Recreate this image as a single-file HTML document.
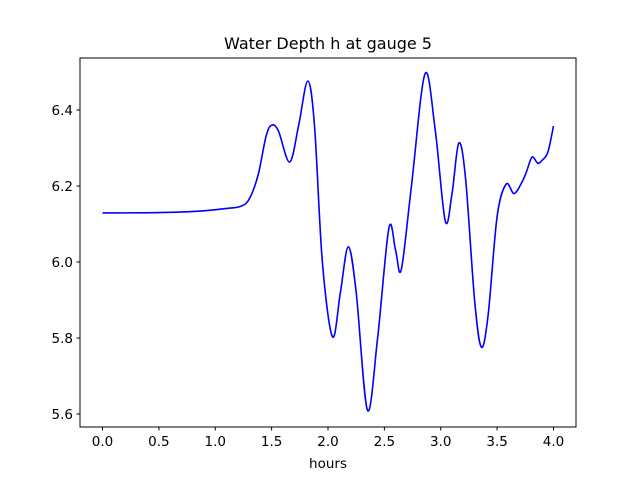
<!DOCTYPE html>
<html><head><meta charset="utf-8"><style>
body{margin:0;background:#fff;}
svg text{font-family:"DejaVu Sans","Liberation Sans",sans-serif;fill:#000;}
</style></head><body>
<svg id="chart" width="640" height="480" viewBox="0 0 640 480" xmlns="http://www.w3.org/2000/svg">
<rect width="640" height="480" fill="#fff"/>
<text x="328" y="49" text-anchor="middle" font-size="16">Water Depth h at gauge 5</text>
<g id="plot"></g>
<rect x="80" y="58" width="496" height="369" fill="none" stroke="#000" stroke-width="1"/>
<g id="xticks"></g><g id="yticks"></g>
<text x="328" y="468" text-anchor="middle" font-size="13.5">hours</text>
</svg>
<script>
const xTickLabels = ["0.0","0.5","1.0","1.5","2.0","2.5","3.0","3.5","4.0"];
const xTickValues = [0,0.5,1,1.5,2,2.5,3,3.5,4];
const yTickLabels = ["5.6","5.8","6.0","6.2","6.4"];
const yTickValues = [5.6,5.8,6.0,6.2,6.4];
const hours = [0,0.5,0.87,1.1,1.22,1.3,1.38,1.45,1.5,1.56,1.66,1.74,1.82,1.88,1.95,2.04,2.11,2.18,2.25,2.35,2.44,2.54,2.6,2.65,2.74,2.86,2.95,3.04,3.1,3.16,3.22,3.3,3.36,3.42,3.5,3.58,3.65,3.72,3.76,3.81,3.86,3.9,3.95,4.0];
const depth = [6.129,6.130,6.134,6.141,6.146,6.165,6.229,6.33,6.36,6.345,6.263,6.36,6.476,6.36,6.0,5.803,5.92,6.04,5.92,5.61,5.80,6.089,6.03,5.98,6.2,6.495,6.35,6.108,6.18,6.313,6.22,5.9,5.776,5.86,6.12,6.205,6.18,6.21,6.237,6.276,6.26,6.268,6.289,6.358];
const xs = v => 102.5 + v*112.75;
const ys = v => 110 - (v-6.4)*380;
const NS="http://www.w3.org/2000/svg";
const plot=document.getElementById('plot');
const pts=hours.map((h,i)=>[xs(h),ys(depth[i])]);
let d="M"+pts[0][0]+","+pts[0][1];
for(let i=0;i<pts.length-1;i++){
  const p0=pts[Math.max(0,i-1)],p1=pts[i],p2=pts[i+1],p3=pts[Math.min(pts.length-1,i+2)];
  const c1=[p1[0]+(p2[0]-p0[0])/6,p1[1]+(p2[1]-p0[1])/6];
  const c2=[p2[0]-(p3[0]-p1[0])/6,p2[1]-(p3[1]-p1[1])/6];
  d+=" C"+c1[0]+","+c1[1]+" "+c2[0]+","+c2[1]+" "+p2[0]+","+p2[1];
}
const path=document.createElementNS(NS,'path');


path.setAttribute('d',d);path.setAttribute('fill','none');
path.setAttribute('stroke','#0000ff');path.setAttribute('stroke-width','1.6');
plot.appendChild(path);
const xg=document.getElementById('xticks');
xTickValues.forEach((v,i)=>{
  const x=xs(v);
  const l=document.createElementNS(NS,'line');
  
  
  l.setAttribute('x1',x);l.setAttribute('x2',x);l.setAttribute('y1',427);l.setAttribute('y2',430.5);l.setAttribute('stroke','#000');
  xg.appendChild(l);
  const t=document.createElementNS(NS,'text');
  
  
  t.setAttribute('x',x);t.setAttribute('y',446);t.setAttribute('text-anchor','middle');t.setAttribute('font-size','13.5');
  t.textContent=xTickLabels[i];xg.appendChild(t);
});
const yg=document.getElementById('yticks');
yTickValues.forEach((v,i)=>{
  const y=ys(v);
  const l=document.createElementNS(NS,'line');
  
  
  l.setAttribute('x1',76.5);l.setAttribute('x2',80);l.setAttribute('y1',y);l.setAttribute('y2',y);l.setAttribute('stroke','#000');
  yg.appendChild(l);
  const t=document.createElementNS(NS,'text');
  
  
  t.setAttribute('x',73);t.setAttribute('y',y+5);t.setAttribute('text-anchor','end');t.setAttribute('font-size','13.5');
  t.textContent=yTickLabels[i];yg.appendChild(t);
});
</script>
</body></html>
